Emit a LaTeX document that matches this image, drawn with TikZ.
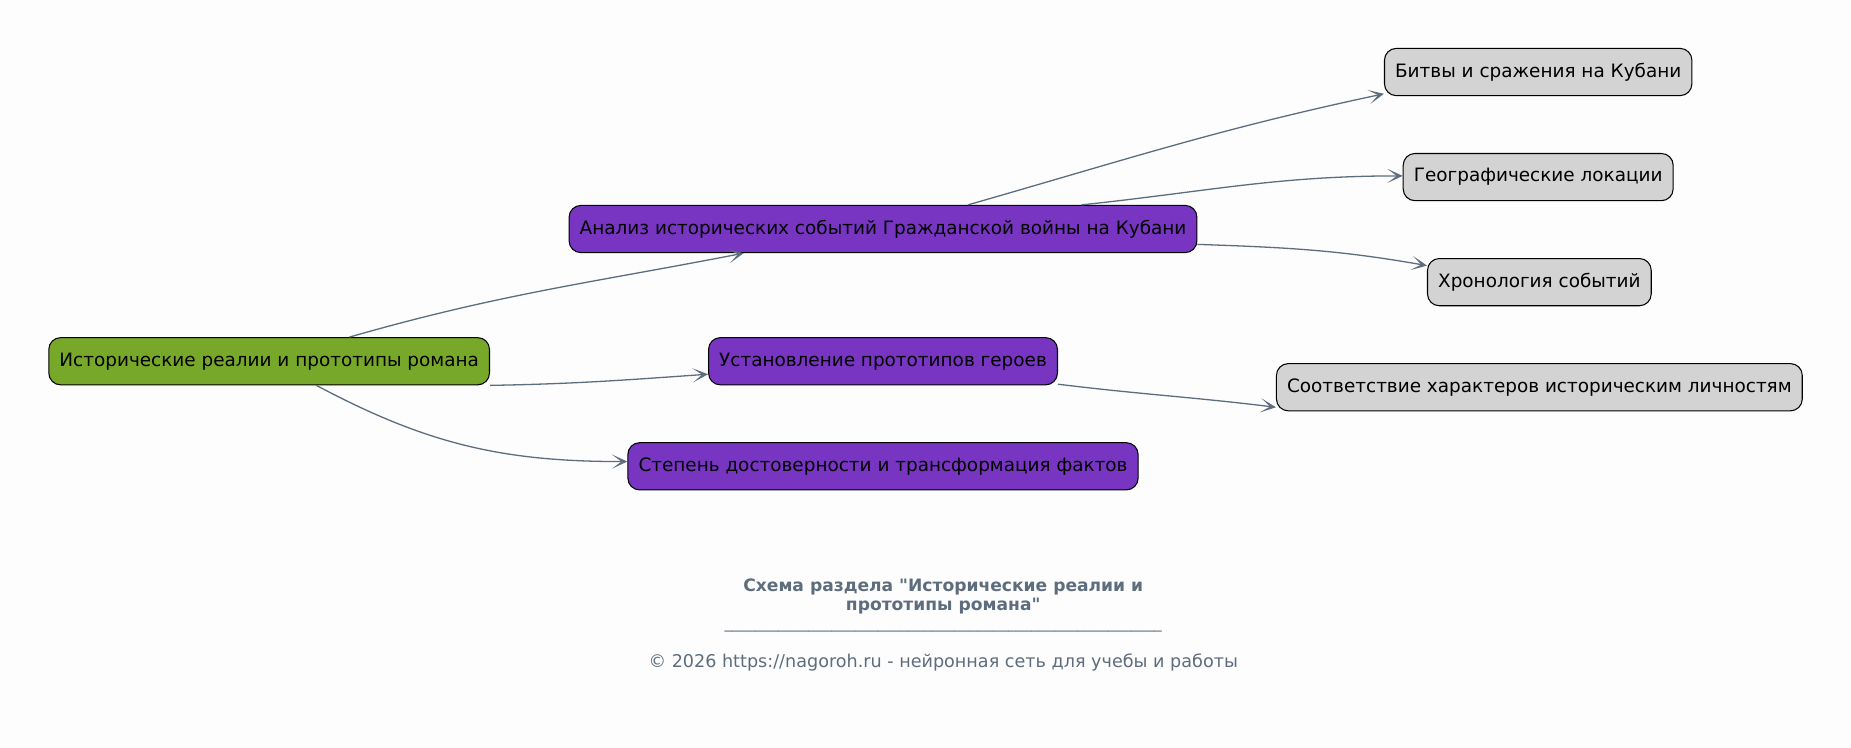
\documentclass[tikz,border=0pt]{standalone}
\usepackage{fontspec}
\setmainfont{DejaVu Sans}
\usetikzlibrary{arrows.meta}
\definecolor{rootgreen}{HTML}{78A82A}
\definecolor{topicpurple}{HTML}{7735C2}
\definecolor{leafgray}{HTML}{D3D3D3}
\definecolor{edgeslate}{HTML}{5D6D7E}
\definecolor{paperwhite}{HTML}{FDFDFD}
\tikzset{
  mapbox/.style={draw=black, line width=0.9pt, rounded corners=10pt, minimum height=40pt, inner xsep=9pt, font=\fontsize{15.6}{18}\selectfont},
  rootbox/.style={mapbox, fill=rootgreen},
  topicbox/.style={mapbox, fill=topicpurple},
  leafbox/.style={mapbox, fill=leafgray},
  link/.style={->, draw=edgeslate, line width=1.1pt}
}
\begin{document}
\begin{tikzpicture}[x=1pt, y=-1pt, >={Stealth[length=13pt,width=12pt,inset=8pt]}]
\fill[paperwhite] (0,0) rectangle (1568,633);
\useasboundingbox (0,0) rectangle (1568,633);
\node[rootbox] (root) at (228,306) {Исторические реалии и прототипы романа};
\node[topicbox] (events) at (748,194) {Анализ исторических событий Гражданской войны на Кубани};
\node[topicbox] (heroes) at (748,306) {Установление прототипов героев};
\node[topicbox] (facts) at (748,395) {Степень достоверности и трансформация фактов};
\node[leafbox] (battles) at (1303,61) {Битвы и сражения на Кубани};
\node[leafbox] (places) at (1303,150) {Географические локации};
\node[leafbox] (chrono) at (1304,239) {Хронология событий};
\node[leafbox] (persons) at (1304,328) {Соответствие характеров историческим личностям};
\draw[link] ([xshift=68pt]root.north) to[out=16, in=191] ([xshift=-118pt]events.south);
\draw[link] (root.south east) to[out=1, in=184] ([yshift=-11pt]heroes.west);
\draw[link] ([xshift=40pt]root.south) to[out=-28, in=180] ([yshift=4pt]facts.west);
\draw[link] ([xshift=72pt]events.north) to[out=16, in=192] ([yshift=2pt]battles.south west);
\draw[link] ([xshift=168pt]events.north) to[out=6, in=180] ([yshift=1pt]places.west);
\draw[link] ([yshift=-13pt]events.east) to[out=-2, in=170] ([yshift=14pt]chrono.west);
\draw[link] ([yshift=1pt]heroes.south east) to[out=-7, in=173] ([yshift=-17pt]persons.west);
\node[font=\fontsize{14.5}{16}\selectfont\bfseries, text=edgeslate, align=center] (title) at (799,505) {Схема раздела \textquotedbl Исторические реалии и\\прототипы романа\textquotedbl};
\node[font=\fontsize{13}{15}\selectfont, text=edgeslate] (rule) at (799,534) {\_\_\_\_\_\_\_\_\_\_\_\_\_\_\_\_\_\_\_\_\_\_\_\_\_\_\_\_\_\_\_\_\_\_\_\_\_\_\_\_\_\_\_\_\_\_\_\_\_\_\_\_\_\_\_\_\_};
\node[font=\fontsize{14.9}{17}\selectfont, text=edgeslate] (credit) at (799,561) {© 2026 https://nagoroh.ru - нейронная сеть для учебы и работы};
\end{tikzpicture}
\end{document}
